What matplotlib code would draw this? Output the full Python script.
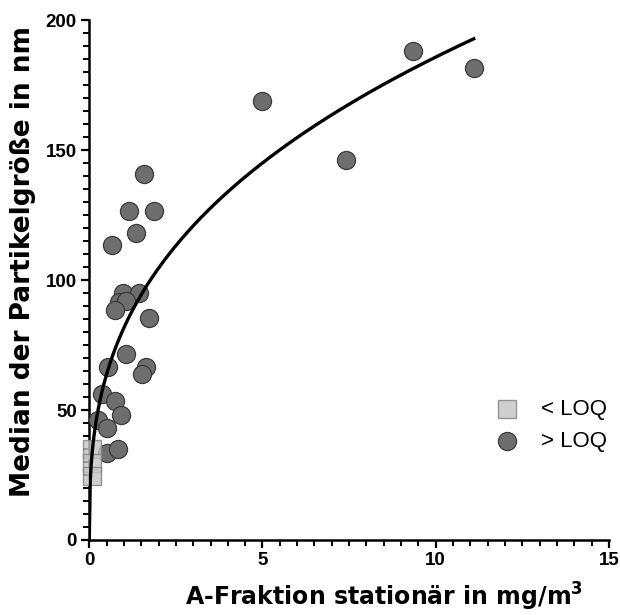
import matplotlib
matplotlib.use("Agg")
import matplotlib.pyplot as plt
from matplotlib.ticker import MultipleLocator
import numpy as np

plt.rcParams['font.family'] = ['Liberation Sans', 'DejaVu Sans']

# values
loq_below_x = [0.07, 0.07, 0.08]
loq_below_y = [34.9, 29.6, 24.5]

loq_above_x = [9.36, 11.10, 5.00, 7.42, 1.59, 1.15, 1.87, 1.34, 0.65, 0.98,
               1.43, 0.86, 1.06, 0.75, 1.72, 1.06, 0.55, 1.63, 1.51, 0.38,
               0.74, 0.91, 0.24, 0.50, 0.50, 0.84]
loq_above_y = [188.0, 181.7, 169.0, 146.4, 141.0, 126.5, 126.5, 118.0, 113.5, 95.0,
               95.0, 91.7, 92.0, 88.5, 85.5, 71.4, 66.4, 66.4, 63.8, 56.0,
               53.6, 48.0, 46.0, 43.2, 33.6, 34.9]

x_label = "A-Fraktion stationär in mg/m$^\\mathbf{3}$"
y_label = "Median der Partikelgröße in nm"

# least-squares power fit y = a * x^b (grid over b, closed form for a)
all_x = np.array(loq_below_x + loq_above_x)
all_y = np.array(loq_below_y + loq_above_y)
best = None
for b in np.linspace(0.1, 0.8, 701):
    xb = all_x ** b
    a = np.sum(all_y * xb) / np.sum(xb * xb)
    sse = np.sum((all_y - a * xb) ** 2)
    if best is None or sse < best[0]:
        best = (sse, a, b)
_, fit_a, fit_b = best
fit_x = np.linspace(0.0, max(loq_above_x), 400)
fit_y = fit_a * fit_x ** fit_b

fig = plt.figure(figsize=(6.2, 6.15), dpi=100)
ax = fig.add_axes([0.144, 0.122, 0.838, 0.845])

ax.scatter(loq_above_x, loq_above_y, marker='o', s=170, facecolor='#6e6e6e',
           edgecolor='#3a3a3a', linewidth=0.9, zorder=3, label='> LOQ')
ax.scatter(loq_below_x, loq_below_y, marker='s', s=150, facecolor='#c4c4c4',
           edgecolor='#808080', linewidth=1.0, alpha=0.8, zorder=4, clip_on=False,
           label='< LOQ')
ax.plot(fit_x, fit_y, color='black', linewidth=2.4, zorder=5)

ax.set_xlim(0, 15)
ax.set_ylim(0, 200)
ax.xaxis.set_major_locator(MultipleLocator(5))
ax.xaxis.set_minor_locator(MultipleLocator(0.5))
ax.yaxis.set_major_locator(MultipleLocator(50))
ax.yaxis.set_minor_locator(MultipleLocator(5))

for side in ['top', 'right']:
    ax.spines[side].set_visible(False)
for side in ['left', 'bottom']:
    ax.spines[side].set_linewidth(1.8)
ax.tick_params(which='major', length=6, width=1.6, labelsize=13.5, pad=3)
ax.tick_params(which='minor', length=4, width=1.4)
for lbl in ax.get_xticklabels() + ax.get_yticklabels():
    lbl.set_fontweight('bold')

ax.set_xlabel(x_label, fontsize=17, fontweight='bold', family=['DejaVu Sans'])
ax.set_ylabel(y_label, fontsize=19, fontweight='bold', family=['DejaVu Sans'])
ax.xaxis.set_label_coords(0.567, -0.079)
ax.yaxis.set_label_coords(-0.103, 0.535)

handles, labels = ax.get_legend_handles_labels()
ax.legend(handles[::-1], labels[::-1], loc='center left',
          bbox_to_anchor=(0.745, 0.22), frameon=False,
          fontsize=16, handletextpad=0.5, labelspacing=0.5, borderaxespad=0)

fig.savefig("out.png", dpi=100)
